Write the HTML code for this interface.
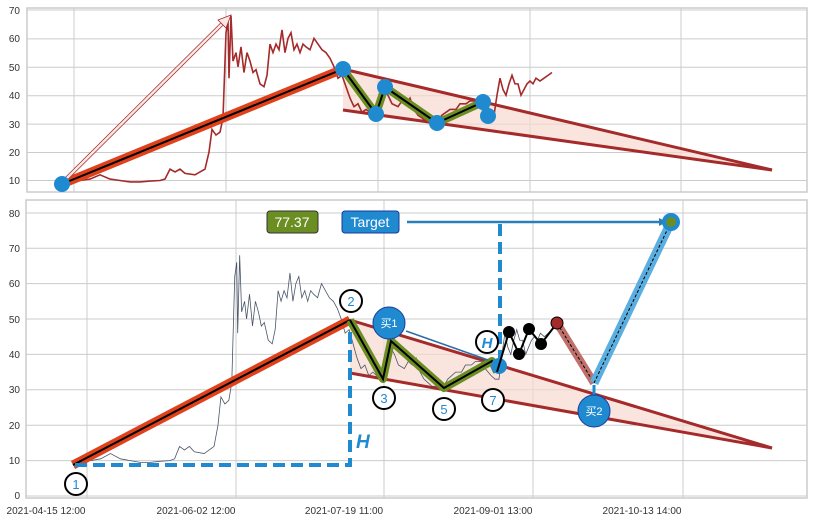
<!DOCTYPE html>
<html><head><meta charset="utf-8"><style>
html,body{margin:0;padding:0;background:#fff;}
svg{display:block;font-family:"Liberation Sans","Noto Sans CJK SC",sans-serif;}
</style></head><body>
<svg width="814" height="521" viewBox="0 0 814 521" xmlns="http://www.w3.org/2000/svg">
<defs>
<polyline id="px" vector-effect="non-scaling-stroke" points="62,10 70,10.2 80,10 90,10.5 100,12 110,10.5 120,10 130,9.5 140,9.5 150,9.8 160,10 165,10.5 170,14 175,13 180,14 185,12.5 195,12 205,14 209,20 212,28 216,26 220,27 223,32 226,62 228,66 229,46 231,68 233,52 236,55 238,50 241,57 244,48 247,55 250,52 253,48 256,49 260,44 264,43 267,47 270,58 273,55 276,58 279,56 282,63 285,55 288,60 291,62 294,56 297,58 300,55 303,58 306,57 310,56 314,60 318,58 322,56 326,55 330,53 334,50 338,46 342,47 346,43 350,39 354,36 358,37 362,34 366,35 370,34 376,33 380,36 384,42 388,40 392,37 398,36 402,38 406,37 410,39 414,35 418,33 422,32 426,31 430,31 434,30 438,31 442,33 446,34 450,35 456,35 460,37 466,37 470,38 476,38 480,36 486,34 490,33 494,33 497,40 500,46 503,42 506,40 509,44 512,47 515,44 518,44 521,40 524,42 527,44 530,45 533,44 536,46 540,45 544,46 548,47 552,48" fill="none"/>
<marker id="ah" markerWidth="8" markerHeight="8" refX="7" refY="4" orient="auto" markerUnits="userSpaceOnUse"><path d="M0,0 L8,4 L0,8 z" fill="#2a7fb8"/></marker>
</defs>

<!-- TOP AXES -->
<rect x="27" y="8" width="780" height="184" fill="#fff" stroke="#ccc" stroke-width="1.5"/>
<g stroke="#ccc" stroke-width="1">
<line x1="27" y1="10" x2="807" y2="10"/><line x1="27" y1="38.9" x2="807" y2="38.9"/><line x1="27" y1="67.2" x2="807" y2="67.2"/><line x1="27" y1="95.7" x2="807" y2="95.7"/><line x1="27" y1="124.1" x2="807" y2="124.1"/><line x1="27" y1="152.5" x2="807" y2="152.5"/><line x1="27" y1="180.5" x2="807" y2="180.5"/>
<line x1="74" y1="8" x2="74" y2="192"/><line x1="226" y1="8" x2="226" y2="192"/><line x1="378" y1="8" x2="378" y2="192"/><line x1="530" y1="8" x2="530" y2="192"/><line x1="681" y1="8" x2="681" y2="192"/>
</g>
<g font-size="10" fill="#333" text-anchor="end">
<text x="20" y="14">70</text><text x="20" y="42">60</text><text x="20" y="71">50</text><text x="20" y="99">40</text><text x="20" y="128">30</text><text x="20" y="156">20</text><text x="20" y="184">10</text>
</g>
<polygon points="343,69 772,170 343,110" fill="#f8d8d0" opacity="0.7"/>
<use href="#px" transform="matrix(1 0 0 -2.842 0 208.92)" stroke="#a52a2a" stroke-width="1.6"/>
<line x1="343" y1="69" x2="772" y2="170" stroke="#a52a2a" stroke-width="3"/>
<line x1="343" y1="110" x2="772" y2="170" stroke="#a52a2a" stroke-width="3"/>
<line x1="62" y1="184" x2="343" y2="69" stroke="#e0401a" stroke-width="9"/>
<line x1="62" y1="184" x2="343" y2="69" stroke="#000" stroke-width="2"/>
<line x1="64" y1="181" x2="226" y2="20" stroke="#a52a2a" stroke-width="4"/>
<line x1="64" y1="181" x2="226" y2="20" stroke="#fbe8e4" stroke-width="2.5"/>
<path d="M231,15 L218,20 L226,28 z" fill="#fbe8e4" stroke="#a52a2a" stroke-width="0.8"/>
<polyline points="343,69 376,114 385,87 437,123 483,102 488,116" fill="none" stroke="#6b8e23" stroke-width="8" stroke-linejoin="round"/>
<polyline points="343,69 376,114 385,87 437,123 483,102 488,116" fill="none" stroke="#000" stroke-width="2"/>
<g fill="#1f8ad0">
<circle cx="62" cy="184" r="8"/><circle cx="343" cy="69" r="8"/><circle cx="376" cy="114" r="8"/><circle cx="385" cy="87" r="8"/><circle cx="437" cy="123" r="8"/><circle cx="483" cy="102" r="8"/><circle cx="488" cy="116" r="8"/>
</g>

<!-- BOTTOM AXES -->
<rect x="26" y="200" width="781" height="298" fill="#fff" stroke="#ccc" stroke-width="1.5"/>
<g stroke="#ccc" stroke-width="1">
<line x1="26" y1="213" x2="807" y2="213"/><line x1="26" y1="248.3" x2="807" y2="248.3"/><line x1="26" y1="283.6" x2="807" y2="283.6"/><line x1="26" y1="319" x2="807" y2="319"/><line x1="26" y1="354.4" x2="807" y2="354.4"/><line x1="26" y1="389.8" x2="807" y2="389.8"/><line x1="26" y1="425.2" x2="807" y2="425.2"/><line x1="26" y1="460.6" x2="807" y2="460.6"/><line x1="26" y1="496" x2="807" y2="496"/>
<line x1="87" y1="200" x2="87" y2="498"/><line x1="236" y1="200" x2="236" y2="498"/><line x1="384" y1="200" x2="384" y2="498"/><line x1="533" y1="200" x2="533" y2="498"/><line x1="683" y1="200" x2="683" y2="498"/>
</g>
<g font-size="10" fill="#333" text-anchor="end">
<text x="20" y="217">80</text><text x="20" y="252">70</text><text x="20" y="287">60</text><text x="20" y="323">50</text><text x="20" y="358">40</text><text x="20" y="393">30</text><text x="20" y="429">20</text><text x="20" y="464">10</text><text x="20" y="499">0</text>
</g>
<g font-size="10" fill="#333" text-anchor="middle">
<text x="46" y="514">2021-04-15 12:00</text><text x="196" y="514">2021-06-02 12:00</text><text x="344" y="514">2021-07-19 11:00</text><text x="493" y="514">2021-09-01 13:00</text><text x="642" y="514">2021-10-13 14:00</text>
</g>
<polygon points="350,320 772,448 350,373" fill="#f8d8d0" opacity="0.7"/>
<use href="#px" transform="matrix(0.986 0 0 -3.54 11.9 496)" stroke="#4a5568" stroke-width="0.8"/>
<line x1="350" y1="320" x2="772" y2="448" stroke="#a52a2a" stroke-width="3"/>
<line x1="350" y1="373" x2="772" y2="448" stroke="#a52a2a" stroke-width="3"/>
<line x1="73" y1="465" x2="350" y2="320" stroke="#e0401a" stroke-width="9"/>
<line x1="73" y1="465" x2="350" y2="320" stroke="#000" stroke-width="2"/>
<polyline points="75,465 350,465 350,322" fill="none" stroke="#1f8ad0" stroke-width="4" stroke-dasharray="12,6"/>
<text x="356" y="448" font-size="19" font-weight="bold" font-style="italic" fill="#1f8ad0">H</text>
<line x1="500" y1="224" x2="500" y2="372" stroke="#1f8ad0" stroke-width="4" stroke-dasharray="12,6"/>
<line x1="407" y1="222" x2="666" y2="222" stroke="#2a7fb8" stroke-width="2.5" marker-end="url(#ah)"/>
<polyline points="350,320 383,379 391,341 444,388 492,361 497,372" fill="none" stroke="#6b8e23" stroke-width="8" stroke-linejoin="round"/>
<polyline points="350,320 383,379 391,341 444,388 492,361 497,372" fill="none" stroke="#000" stroke-width="2"/>
<line x1="406" y1="331" x2="488" y2="360" stroke="#2a6fa8" stroke-width="1.5"/>
<circle cx="499" cy="366" r="8" fill="#1f8ad0"/>
<polyline points="497,372 509,332 519,354 529,329 541,344 557,323" fill="none" stroke="#000" stroke-width="2"/>
<g fill="#000"><circle cx="509" cy="332" r="6"/><circle cx="519" cy="354" r="6"/><circle cx="529" cy="329" r="6"/><circle cx="541" cy="344" r="6"/></g>
<line x1="557" y1="323" x2="594" y2="383" stroke="#c0706a" stroke-width="8"/>
<line x1="557" y1="323" x2="594" y2="383" stroke="#000" stroke-width="1" stroke-dasharray="3,2"/>
<circle cx="557" cy="323" r="6" fill="#a52a2a" stroke="#000" stroke-width="1"/>
<line x1="594" y1="383" x2="671" y2="222" stroke="#5aaee0" stroke-width="9"/>
<line x1="594" y1="383" x2="671" y2="222" stroke="#000" stroke-width="1" stroke-dasharray="3,2"/>
<line x1="594" y1="385" x2="594" y2="398" stroke="#1f8ad0" stroke-width="3"/>
<circle cx="671" cy="222" r="9" fill="#1f8ad0"/><circle cx="671" cy="222" r="5" fill="#6b8e23"/>
<g fill="#fff" stroke="#000" stroke-width="2">
<circle cx="76" cy="484" r="11"/><circle cx="351" cy="301" r="11"/><circle cx="384" cy="398" r="11"/><circle cx="444" cy="409" r="11"/><circle cx="493" cy="400" r="11"/><circle cx="487" cy="342" r="11"/>
</g>
<g font-size="13" fill="#1f8ad0" text-anchor="middle">
<text x="76" y="489">1</text><text x="351" y="306">2</text><text x="384" y="403">3</text><text x="444" y="414">5</text><text x="493" y="405">7</text>
</g>
<text x="487" y="348" font-size="15" font-weight="bold" font-style="italic" fill="#1f8ad0" text-anchor="middle">H</text>
<circle cx="389" cy="323" r="16" fill="#1f8ad0" stroke="#1a3a9a" stroke-width="1"/>
<text x="389" y="327" font-size="11" fill="#fff" text-anchor="middle">买1</text>
<circle cx="594" cy="411" r="16" fill="#1f8ad0" stroke="#1a3a9a" stroke-width="1"/>
<text x="594" y="415" font-size="11" fill="#fff" text-anchor="middle">买2</text>
<rect x="267" y="211" width="51" height="22" rx="3" fill="#6b8e23" stroke="#333" stroke-width="1"/>
<text x="292" y="227" font-size="14" fill="#fff" text-anchor="middle">77.37</text>
<rect x="342" y="211" width="57" height="22" rx="3" fill="#1f8ad0" stroke="#1a3a9a" stroke-width="1"/>
<text x="370" y="227" font-size="14" fill="#fff" text-anchor="middle">Target</text>
</svg>
</body></html>
